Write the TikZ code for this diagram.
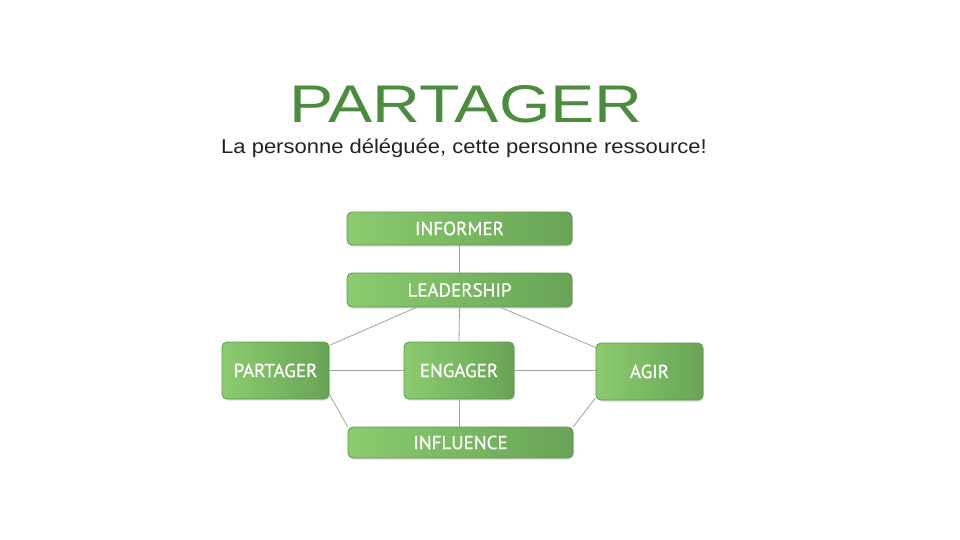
\documentclass[tikz,border=0pt]{standalone}
\usepackage{fontspec}
\usepackage{graphicx}
\setmainfont{Liberation Sans}
\newfontfamily\boxfont[FakeBold=0.8]{PT Sans}
\usepackage{xcolor}
\usetikzlibrary{positioning,calc,shadows}
\definecolor{titlegreen}{HTML}{4C8C3F}
\definecolor{ink}{HTML}{222222}
\definecolor{boxlight}{HTML}{8CCB6F}
\definecolor{boxdark}{HTML}{68A455}
\definecolor{boxedge}{HTML}{5E984C}
\definecolor{wire}{HTML}{9AA89A}
\tikzset{
  every picture/.style={line width=0.8pt},
  cell/.style={draw=boxedge, left color=boxlight, right color=boxdark, rounded corners=5pt,
    text=white, font=\boxfont\fontsize{19}{22}\selectfont, inner sep=0pt,
    drop shadow={shadow xshift=1pt, shadow yshift=-1.5pt, opacity=0.25}},
  wide/.style={cell, minimum width=225pt},
  square/.style={cell, minimum height=57pt},
  link/.style={draw=wire, line width=0.8pt},
}

\begin{document}
\begin{tikzpicture}[x=1pt, y=-1pt]
\useasboundingbox[fill=white] (0,0) rectangle (960,540);
\node[anchor=base, text=titlegreen, font=\fontsize{53}{60}\selectfont] (title) at (466,123) {\scalebox{1.25}[1]{PARTAGER}};
\node[anchor=base, text=ink, font=\fontsize{20}{24}\selectfont] (sub) at (464,154) {\scalebox{1.1}[1]{La personne déléguée, cette personne ressource!}};
% boxes
\node[wide, minimum height=33pt] (info) at (459.5,228.5) {INFORMER};
\node[wide, minimum height=34pt] (lead) at (459.5,290) {LEADERSHIP};
\node[square, minimum width=107pt] (part) at (275.5,370.5) {PARTAGER};
\node[square, minimum width=110pt] (eng) at (459,370.5) {ENGAGER};
\node[square, minimum width=107pt] (agir) at (649.5,371.5) {AGIR};
\node[wide, minimum height=31pt] (infl) at (460.5,442.5) {INFLUENCE};
% connectors
\draw[link] (info.south) -- (lead.north);
\draw[link] (lead.south) -- (eng.north);
\draw[link] (lead.202) -- (part.25);
\draw[link] (lead.-23) -- (agir.156);
\draw[link] (part.east) -- (eng.west);
\draw[link] (eng.east) -- (agir.west |- eng.east);
\draw[link] (eng.south) -- (eng.south |- infl.north);
\draw[link] (part.-24) -- (infl.north west);
\draw[link] (agir.206) -- (infl.north east);
\end{tikzpicture}
\end{document}
